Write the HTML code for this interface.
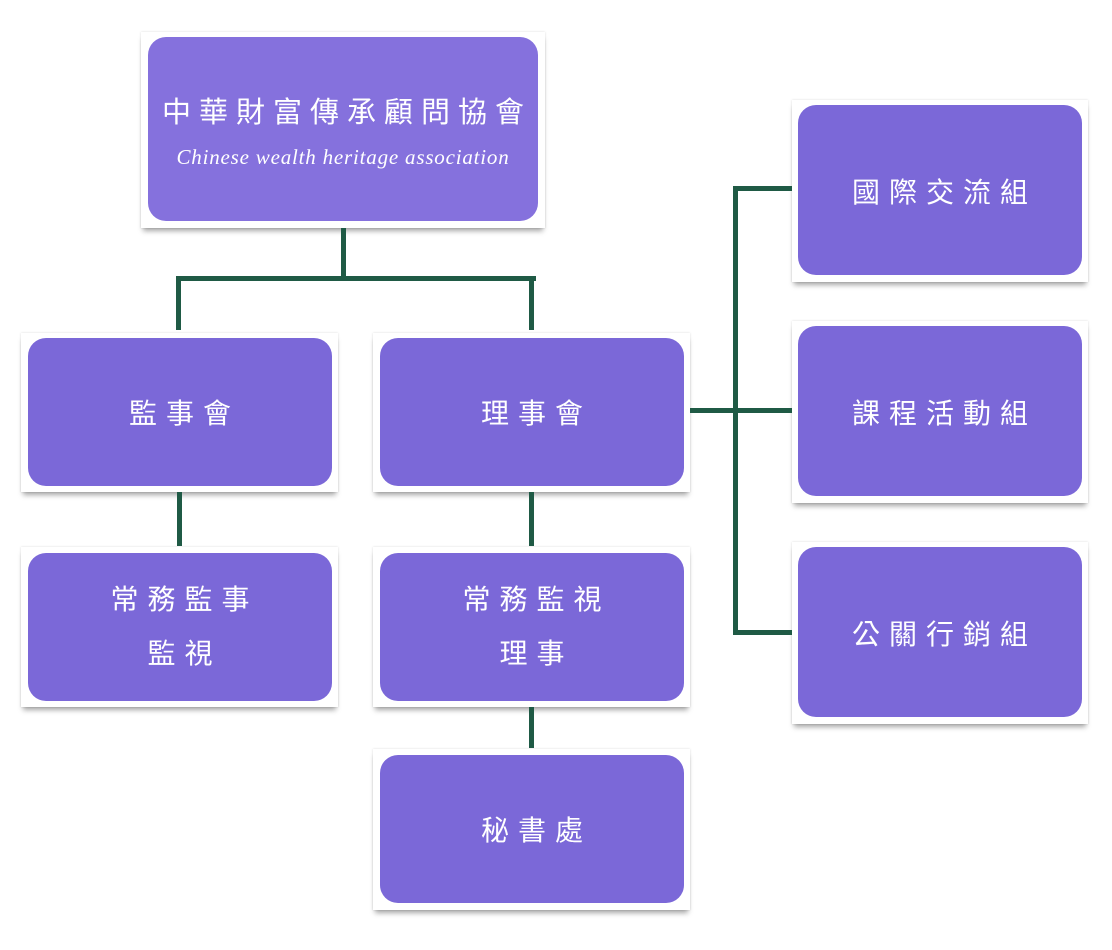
<!DOCTYPE html>
<html><head><meta charset="utf-8"><style>
body{margin:0;width:1112px;height:950px;background:#fff;position:relative;overflow:hidden;font-family:"Liberation Sans","Noto Sans CJK TC",sans-serif}
.f{position:absolute;background:#fff;box-shadow:0 5px 5px -2px rgba(0,0,0,.35),0 0 2px rgba(0,0,0,.15)}
.b{position:absolute;background:#7b68d8;border-radius:18px;color:#fff;display:flex;flex-direction:column;align-items:center;justify-content:center;font-size:28px;letter-spacing:9px;line-height:54px;text-align:center;padding-left:9px;box-sizing:border-box}
.l{position:absolute;background:#1f5a45}
</style></head><body>
<div class="f" style="left:141px;top:32px;width:404px;height:196px"></div>
<div class="b" style="left:148px;top:37px;width:390px;height:184px;background:#8571dd;display:block;padding:0">
<div style="position:absolute;left:0;right:0;top:54px;font-size:29px;letter-spacing:8px;padding-left:8px;line-height:44px">中華財富傳承顧問協會</div>
<div style="position:absolute;left:0;right:0;top:106px;font-family:'Liberation Serif',serif;font-style:italic;font-size:21px;letter-spacing:0.8px;line-height:28px">Chinese wealth heritage association</div></div>

<div class="f" style="left:21px;top:333px;width:317px;height:159px"></div>
<div class="b" style="left:28px;top:338px;width:304px;height:148px;padding-top:4px">監事會</div>
<div class="f" style="left:373px;top:333px;width:317px;height:159px"></div>
<div class="b" style="left:380px;top:338px;width:304px;height:148px;padding-top:4px">理事會</div>
<div class="f" style="left:21px;top:547px;width:317px;height:160px"></div>
<div class="b" style="left:28px;top:553px;width:304px;height:148px"><div>常務監事</div><div>監視</div></div>
<div class="f" style="left:373px;top:547px;width:317px;height:160px"></div>
<div class="b" style="left:380px;top:553px;width:304px;height:148px"><div>常務監視</div><div>理事</div></div>
<div class="f" style="left:373px;top:749px;width:317px;height:161px"></div>
<div class="b" style="left:380px;top:755px;width:304px;height:148px;padding-top:4px">秘書處</div>

<div class="f" style="left:792px;top:100px;width:296px;height:182px"></div>
<div class="b" style="left:798px;top:105px;width:284px;height:170px;padding-top:6px">國際交流組</div>
<div class="f" style="left:792px;top:321px;width:296px;height:182px"></div>
<div class="b" style="left:798px;top:326px;width:284px;height:170px;padding-top:6px">課程活動組</div>
<div class="f" style="left:792px;top:542px;width:296px;height:182px"></div>
<div class="b" style="left:798px;top:547px;width:284px;height:170px;padding-top:6px">公關行銷組</div>

<div class="l" style="left:341px;top:228px;width:5px;height:52px"></div>
<div class="l" style="left:176px;top:276px;width:360px;height:5px"></div>
<div class="l" style="left:176px;top:276px;width:5px;height:54px"></div>
<div class="l" style="left:529px;top:276px;width:5px;height:54px"></div>
<div class="l" style="left:177px;top:492px;width:5px;height:54px"></div>
<div class="l" style="left:529px;top:492px;width:5px;height:54px"></div>
<div class="l" style="left:529px;top:707px;width:5px;height:41px"></div>
<div class="l" style="left:690px;top:408px;width:102px;height:5px"></div>
<div class="l" style="left:733px;top:186px;width:5px;height:449px"></div>
<div class="l" style="left:733px;top:186px;width:59px;height:5px"></div>
<div class="l" style="left:733px;top:630px;width:59px;height:5px"></div>
</body></html>
